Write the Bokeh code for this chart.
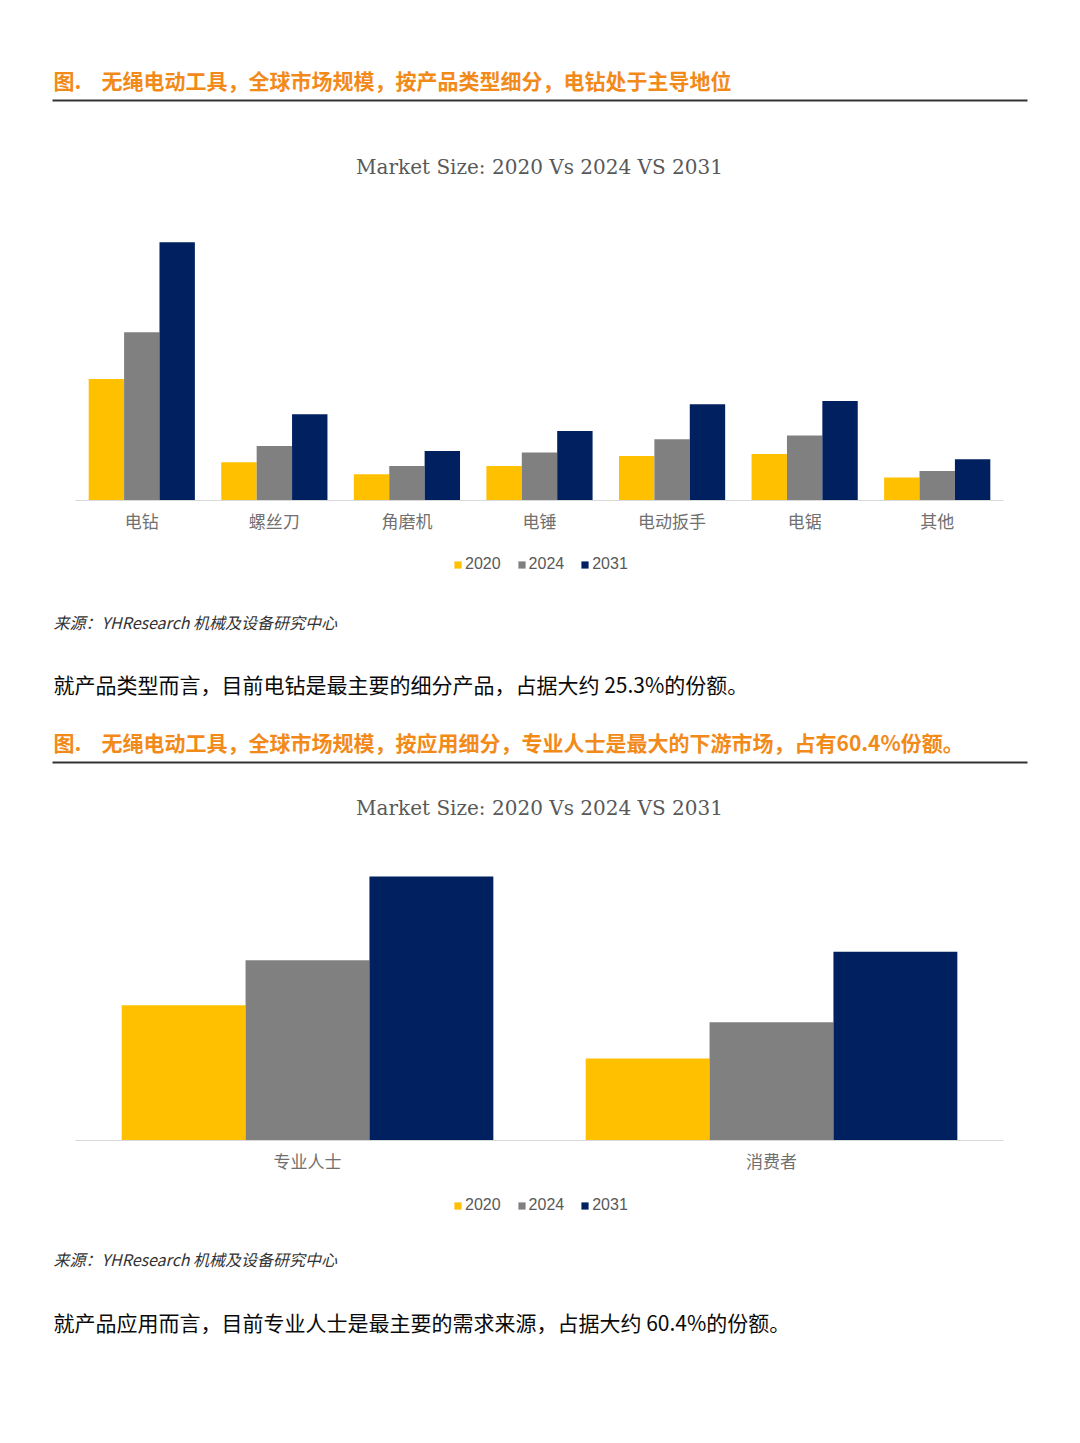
from bokeh.plotting import figure
from bokeh.models import Range1d, ColumnDataSource, Legend, LegendItem
from bokeh.transform import dodge
from bokeh.core.properties import value
from bokeh.embed import file_html
from bokeh.resources import INLINE

# ---------------- data ----------------
years = ["2020", "2024", "2031"]
colors = ["#FFC000", "#808080", "#002060"]

cats_type = ["电钻", "螺丝刀", "角磨机", "电锤", "电动扳手", "电锯", "其他"]
type_2020 = [121.6, 38.3, 26.3, 34.6, 44.6, 46.6, 23.0]
type_2024 = [168.3, 54.6, 34.6, 48.0, 61.3, 65.0, 29.6]
type_2031 = [258.3, 86.3, 49.6, 69.6, 96.3, 99.6, 41.3]

cats_app = ["专业人士", "消费者"]
app_2020 = [135.3, 82.0]
app_2024 = [180.3, 118.3]
app_2031 = [264.0, 188.7]

chart_title = "Market Size: 2020 Vs 2024 VS 2031"
heading1_a = "图."
heading1_b = "无绳电动工具，全球市场规模，按产品类型细分，电钻处于主导地位"
heading2_a = "图."
heading2_b = "无绳电动工具，全球市场规模，按应用细分，专业人士是最大的下游市场，占有60.4%份额。"
source_text = "来源：YHResearch 机械及设备研究中心"
para1 = "就产品类型而言，目前电钻是最主要的细分产品，占据大约 25.3%的份额。"
para2 = "就产品应用而言，目前专业人士是最主要的需求来源，占据大约 60.4%的份额。"

# ---------------- page canvas ----------------
W, H = 1072, 1435
CJK = "Noto Sans CJK SC"
ORANGE = "#F28A1A"
PLOT_L, PLOT_R = 75, 1003   # chart plotting area on the canvas (px)

p = figure(width=W, height=H, x_range=Range1d(0, W), y_range=Range1d(H, 0),
           toolbar_location=None, output_backend="svg", min_border=0,
           x_axis_location=None, y_axis_location=None)
p.grid.visible = False
p.outline_line_color = None


def cat_range(n):
    # categories sit at 0..n-1, each occupying one unit; the n units fill PLOT_L..PLOT_R
    u = (PLOT_R - PLOT_L) / n
    return Range1d(-0.5 - PLOT_L / u, n - 0.5 + (W - PLOT_R) / u)


def val_range(base_y):
    # 1 value unit = 1 px, zero at canvas row base_y
    return Range1d(-(H - base_y), base_y)


p.extra_x_ranges = {"c1": cat_range(len(cats_type)), "c2": cat_range(len(cats_app))}
p.extra_y_ranges = {"v1": val_range(500), "v2": val_range(1140)}


def heading(y, a, b):
    p.text(x=[53, 101], y=[y - 2, y - 2], text=[a, b], text_font=value(CJK),
           text_font_size=value("21px"), text_font_style="bold",
           text_color=ORANGE, text_baseline="middle", text_align="left")
    p.segment(x0=[52], y0=[y + 19], x1=[1027], y1=[y + 19],
              line_color="#333333", line_width=2)


def source(y):
    p.text(x=[53], y=[y - 1], text=[source_text], text_font=value(CJK),
           text_font_size=value("16px"), text_font_style="italic",
           text_color="#333333", text_baseline="middle", text_align="left")


def para(y, t):
    p.text(x=[53], y=[y - 2], text=[t], text_font=value(CJK),
           text_font_size=value("21px"), text_color="#0a0a0a",
           text_baseline="middle", text_align="left")


def chart(cats, s0, s1, s2, xr, yr, base_y, title_y, legend_y):
    src = ColumnDataSource(dict(idx=list(range(len(cats))), cat=cats, y0=s0, y1=s1, y2=s2))
    p.text(x=[(PLOT_L + PLOT_R) / 2], y=[title_y], text=[chart_title],
           text_font=value("DejaVu Serif"), text_font_size=value("20px"),
           text_color="#595959", text_baseline="middle", text_align="center")
    bw = 0.267
    rs = []
    for i, (col, c) in enumerate(zip(["y0", "y1", "y2"], colors)):
        r = p.vbar(x=dodge("idx", (i - 1) * bw), top=col, bottom=0,
                   width=bw, source=src, fill_color=c, line_color=None,
                   x_range_name=xr, y_range_name=yr)
        rs.append(r)
    # axis line
    p.segment(x0=[PLOT_L], y0=[base_y], x1=[PLOT_R], y1=[base_y],
              line_color="#D9D9D9", line_width=1)
    # category labels
    p.text(x="idx", y=base_y + 20, text="cat", source=src, x_range_name=xr,
           text_font=value(CJK), text_font_size=value("17px"),
           text_color="#707070", text_baseline="middle", text_align="center")
    leg = Legend(items=[LegendItem(label=yv, renderers=[r]) for yv, r in zip(years, rs)],
                 orientation="horizontal", location=(453, H - legend_y - 10))
    leg.glyph_width = 9
    leg.glyph_height = 9
    leg.label_standoff = 3
    leg.spacing = 16
    leg.padding = 2
    leg.margin = 0
    leg.border_line_color = None
    leg.background_fill_alpha = 0
    leg.label_text_font = "Liberation Sans"
    leg.label_text_font_size = "16px"
    leg.label_text_color = "#595959"
    p.add_layout(leg, "center")


heading(81, heading1_a, heading1_b)
chart(cats_type, type_2020, type_2024, type_2031, "c1", "v1", 500, 166, 563)
source(622)
para(685, para1)
heading(743, heading2_a, heading2_b)
chart(cats_app, app_2020, app_2024, app_2031, "c2", "v2", 1140, 807, 1204)
source(1259)
para(1323, para2)

open("out.html", "w").write(file_html(p, INLINE))
